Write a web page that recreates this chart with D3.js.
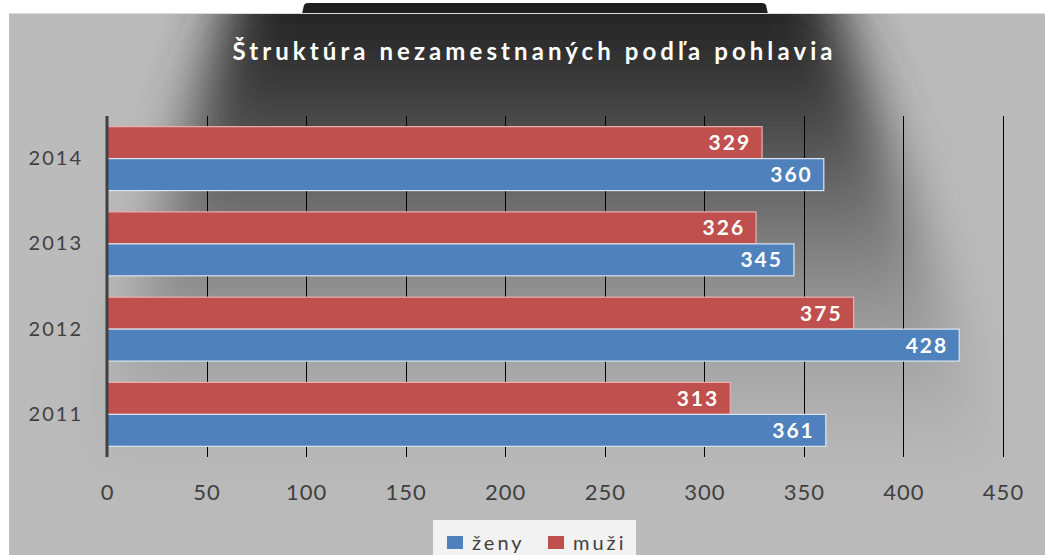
<!DOCTYPE html>
<html>
<head>
<meta charset="utf-8">
<script src="https://cdn.jsdelivr.net/npm/d3@7"></script>
<style>
  body { margin: 0; background: #fff; }
  #chart_struktura text { font-family: Lato, "Open Sans", sans-serif; }
</style>
</head>
<body>
<div id="chart_struktura"></div>
<script>
// data
var years = ["2014", "2013", "2012", "2011"];
var zeny = [360, 345, 428, 361];
var muzi = [329, 326, 375, 313];
var series_names = ["ženy", "muži"];
var series_colors = ["#4F81BD", "#C0504D"];
var x_ticks = [0, 50, 100, 150, 200, 250, 300, 350, 400, 450];
var title_text = "Štruktúra nezamestnaných podľa pohlavia";

var idname = "#chart_struktura";
var width = 1045, height = 555;
var plot = {left: 107, right: 1003, top: 116, bottom: 457};

draw_struktura(idname, width, height);

function draw_struktura(idname, width, height) {

    var svg = d3.select(idname).append("svg")
        .attr("width", width)
        .attr("height", height);

    var defs = svg.append("defs");

    // vertical dark -> grey ramp used for the dark "spot" of the background
    var grad = defs.append("linearGradient")
        .attr("id", "bg_ramp")
        .attr("gradientUnits", "userSpaceOnUse")
        .attr("x1", 0).attr("y1", 13).attr("x2", 0).attr("y2", 480);
    [[0, "#232323"], [0.18, "#3e3e3e"], [0.4, "#6c6c6c"], [0.58, "#8e8e8e"],
     [0.77, "#a9a9a9"], [1, "#bbbbbb"]].forEach(function(s) {
        grad.append("stop").attr("offset", s[0]).attr("stop-color", s[1]);
    });

    defs.append("filter")
        .attr("id", "bg_blur")
        .attr("x", "-30%").attr("y", "-30%").attr("width", "160%").attr("height", "160%")
      .append("feGaussianBlur")
        .attr("stdDeviation", 28);

    defs.append("clipPath")
        .attr("id", "bg_clip")
      .append("rect")
        .attr("x", 9).attr("y", 14).attr("width", width - 9).attr("height", height - 14);

    // little dark tab above the chart
    svg.append("path")
        .attr("d", "M302,14 L304,5 Q305,3 308,3 L762,3 Q765,3 766,5 L768,14 Z")
        .attr("fill", "#1f1f1f");

    // chart background
    var bg = svg.append("g").attr("clip-path", "url(#bg_clip)");
    bg.append("rect")
        .attr("x", 9).attr("y", 14)
        .attr("width", width - 9).attr("height", height - 14)
        .attr("fill", "#bbbbbb");
    bg.append("path")
        .attr("d", "M255,-80 L805,-80 L1010,480 L80,480 Z")
        .attr("fill", "url(#bg_ramp)")
        .attr("filter", "url(#bg_blur)");
    svg.append("line")
        .attr("x1", 9).attr("x2", width).attr("y1", 13.5).attr("y2", 13.5)
        .attr("stroke", "#dcdcdc");

    // scales
    var x = d3.scaleLinear().domain([0, 450]).range([plot.left, plot.right]);
    var y = d3.scaleBand().domain(years)
        .range([plot.top, plot.bottom])
        .paddingInner(0.25).paddingOuter(0.125);
    var y_inner = d3.scaleBand().domain(["muži", "ženy"]).range([0, y.bandwidth()]);

    // gridlines
    svg.selectAll(".gridline")
        .data(x_ticks.slice(1))
      .enter().append("line")
        .attr("class", "gridline")
        .attr("x1", function(d) { return Math.round(x(d)) + 0.5; })
        .attr("x2", function(d) { return Math.round(x(d)) + 0.5; })
        .attr("y1", plot.top)
        .attr("y2", plot.bottom)
        .attr("stroke", "#000")
        .attr("stroke-width", 1);

    // bars
    var rows = years.map(function(yr, i) {
        return {year: yr, zeny: zeny[i], muzi: muzi[i]};
    });
    var bar_data = [];
    rows.forEach(function(d) {
        bar_data.push({year: d.year, key: "muži", value: d.muzi, color: series_colors[1], stroke: "#e9b1af"});
        bar_data.push({year: d.year, key: "ženy", value: d.zeny, color: series_colors[0], stroke: "#dbe5f1"});
    });

    svg.selectAll(".bar")
        .data(bar_data)
      .enter().append("rect")
        .attr("class", "bar")
        .attr("x", x(0))
        .attr("y", function(d) { return y(d.year) + y_inner(d.key); })
        .attr("width", function(d) { return x(d.value) - x(0); })
        .attr("height", y_inner.bandwidth())
        .attr("fill", function(d) { return d.color; })
        .attr("stroke", function(d) { return d.stroke; })
        .attr("stroke-width", 1.2);

    // value labels inside bar ends
    svg.selectAll(".bar_label")
        .data(bar_data)
      .enter().append("text")
        .attr("class", "bar_label")
        .attr("x", function(d) { return x(d.value) - 11; })
        .attr("y", function(d) { return y(d.year) + y_inner(d.key) + y_inner.bandwidth() / 2 + 7.5; })
        .attr("text-anchor", "end")
        .style("font-size", "21px")
        .style("font-weight", "bold")
        .style("letter-spacing", "2px")
        .style("fill", "#fff")
        .text(function(d) { return d.value; });

    // y axis (years)
    var yAxis = d3.axisLeft(y).tickSize(0).tickPadding(24);
    var gy = svg.append("g")
        .attr("transform", "translate(" + plot.left + ",0)")
        .call(yAxis);
    gy.select(".domain").remove();
    gy.selectAll("text")
        .style("font-size", "20px")
        .style("letter-spacing", "2px")
        .style("fill", "#404040");

    svg.append("line")
        .attr("x1", plot.left).attr("x2", plot.left)
        .attr("y1", plot.top).attr("y2", plot.bottom)
        .attr("stroke", "#404040")
        .attr("stroke-width", 3);

    // x axis labels
    var xAxis = d3.axisBottom(x).tickValues(x_ticks).tickSize(0).tickPadding(0);
    var gx = svg.append("g")
        .attr("transform", "translate(0,480)")
        .call(xAxis);
    gx.select(".domain").remove();
    gx.selectAll("text")
        .attr("dy", "0.71em")
        .attr("y", 4)
        .style("font-size", "22px")
        .style("letter-spacing", "1px")
        .style("fill", "#404040");

    // title
    svg.append("text")
        .attr("x", 532.5)
        .attr("y", 60)
        .attr("text-anchor", "middle")
        .attr("textLength", 600)
        .attr("lengthAdjust", "spacing")
        .style("font-size", "24px")
        .style("font-weight", "bold")
        .style("fill", "#fff")
        .text(title_text);

    // legend
    var legend = svg.append("g").attr("class", "legend");
    legend.append("rect")
        .attr("x", 433).attr("y", 520)
        .attr("width", 203).attr("height", 40)
        .attr("fill", "#f2f2f2");
    var legend_x = [447, 548];
    series_names.forEach(function(name, i) {
        legend.append("rect")
            .attr("x", legend_x[i]).attr("y", 536)
            .attr("width", 16).attr("height", 13)
            .attr("fill", series_colors[i]);
        legend.append("text")
            .attr("x", legend_x[i] + 25)
            .attr("y", 550)
            .style("font-size", "20px")
            .style("letter-spacing", "3px")
            .style("fill", "#404040")
            .text(name);
    });
}
</script>
</body>
</html>
